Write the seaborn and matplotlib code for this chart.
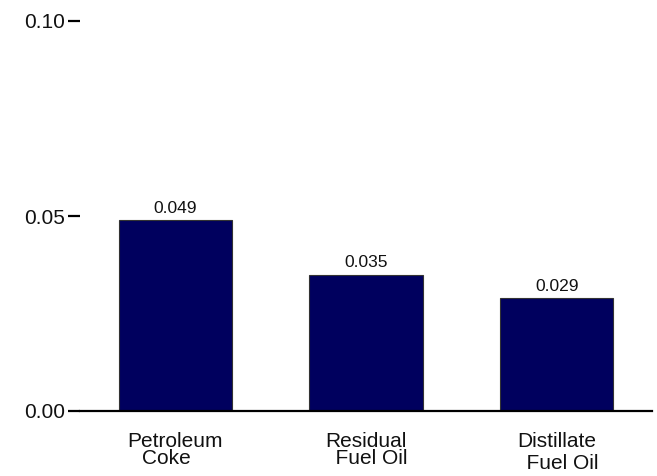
import matplotlib
matplotlib.use("Agg")
import matplotlib.pyplot as plt
import seaborn as sns
import pandas as pd

categories = ["Petroleum\nCoke   ", "Residual\n  Fuel Oil", "Distillate\n  Fuel Oil"]
values = [0.049, 0.035, 0.029]
value_labels = ["0.049", "0.035", "0.029"]
yticks = [0.00, 0.05, 0.10]
ytick_labels = ["0.00", "0.05", "0.10"]

sns.set_theme(style="white")
plt.rcParams["font.family"] = ["Liberation Sans", "DejaVu Sans"]

df = pd.DataFrame({"fuel": categories, "value": values})

fig = plt.figure(figsize=(6.57, 4.76), dpi=100)
ax = fig.add_axes([80 / 657, 1 - 411 / 476, (652 - 80) / 657, (411 - 21) / 476])

sns.barplot(data=df, x="fuel", y="value", color="#00005E", saturation=1,
            width=0.595, edgecolor="#333333", linewidth=0.8, ax=ax)

for container in ax.containers:
    ax.bar_label(container, labels=value_labels, padding=3, fontsize=12.5, color="#111111")

ax.set_xlim(-0.5, 2.5)
ax.set_ylim(0, 0.10)
ax.set_yticks(yticks)
ax.set_yticklabels(ytick_labels, fontsize=15, color="#111111")
ax.set_xlabel("")
ax.set_ylabel("")

for s in ["top", "right", "left"]:
    ax.spines[s].set_visible(False)
ax.spines["bottom"].set_color("black")
ax.spines["bottom"].set_linewidth(1.6)

ax.tick_params(axis="y", which="both", left=True, length=9, width=1.6, color="black", pad=2)
ax.tick_params(axis="x", which="both", bottom=False, length=0, pad=15, labelsize=15, labelcolor="#111111")

labels = ax.get_xticklabels()
for i, t in enumerate(labels):
    t.set_linespacing(0.85 if i < 2 else 1.2)
    t.set_horizontalalignment("center")

fig.savefig("out.png", dpi=100)
